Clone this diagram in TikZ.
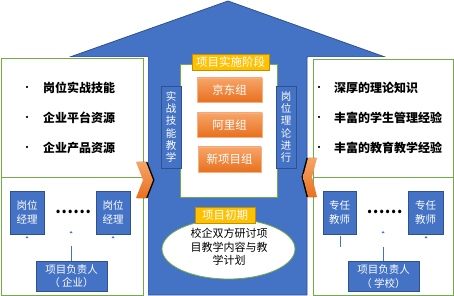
\documentclass[tikz,border=0pt]{standalone}
\usepackage{fontspec}
\setmainfont{Noto Sans CJK SC}
\definecolor{hblue}{HTML}{4472C4}
\definecolor{bdark}{HTML}{2F528F}
\definecolor{pgreen}{HTML}{70AD47}
\definecolor{gold}{HTML}{FFC000}
\definecolor{golddark}{HTML}{BF9000}
\definecolor{otop}{HTML}{F7A468}
\definecolor{obot}{HTML}{E8701E}
\definecolor{oborder}{HTML}{F4B183}
\begin{document}
\begin{tikzpicture}[x=1pt,y=-1pt,
  panel/.style={draw=pgreen,line width=0.8pt},
  bluebox/.style={draw=bdark,fill=hblue,line width=0.7pt,inner sep=0pt,text=white,align=center},
  goldbox/.style={draw=golddark,fill=gold,line width=0.7pt,inner sep=0pt,text=white,font=\fontsize{11.5}{13}\selectfont},
  grpbox/.style={draw=oborder,top color=otop,bottom color=obot,inner sep=0pt,text=white,minimum width=65pt,minimum height=24pt,font=\fontsize{11.5}{13}\selectfont},
  bul/.style={font=\bfseries\fontsize{8}{10}\selectfont,inner sep=0pt},
  bultext/.style={font=\bfseries\fontsize{12}{14}\selectfont,anchor=west,inner sep=0pt},
  vtext/.style={bluebox,minimum width=20pt,minimum height=82pt,font=\fontsize{10.5}{12.3}\selectfont},
  staff/.style={bluebox,minimum height=43pt,font=\fontsize{10.5}{13.5}\selectfont},
  leader/.style={bluebox,minimum width=71pt,minimum height=30pt,font=\fontsize{10.5}{13.5}\selectfont},
  dots/.style={font=\bfseries\fontsize{16}{16}\selectfont,inner sep=0pt},
  conn/.style={draw=hblue,line width=0.8pt},
  tick/.style={fill=hblue},
  chev/.style={top color=otop,bottom color=obot,draw=none}
]
\useasboundingbox (0,0) rectangle (454,296);
\fill[white] (0,0) rectangle (454,296);
% house
\draw[fill=hblue,draw=bdark,line width=0.8pt] (70,57) -- (228,1) -- (385,57) -- (307,57) -- (307,295) -- (148,295) -- (148,57) -- cycle;
% side panels
\fill[white] (0,57) rectangle (147.5,296);
\fill[white] (307.5,57) rectangle (454,296);
\draw[panel] (1,58) rectangle (143,177);
\draw[panel] (1,177) rectangle (143,295);
\draw[panel] (313,59) rectangle (453,177);
\draw[panel] (313,177) rectangle (453,295);
% chevrons
\fill[black] (137.5,162) -- (147.5,162) -- (154.5,180) -- (147.5,198) -- (137.5,198) -- (144.5,180) -- cycle;
\path[chev] (136,162) -- (146,162) -- (153,180) -- (146,198) -- (136,198) -- (143,180) -- cycle;
\fill[black] (315.5,158) -- (306.5,158) -- (301.5,177) -- (306.5,197) -- (315.5,197) -- (310.5,177) -- cycle;
\path[chev] (317,158) -- (308,158) -- (303,177) -- (308,197) -- (317,197) -- (312,177) -- cycle;
% central box
\node[draw=pgreen,fill=white,line width=0.8pt,minimum width=97pt,minimum height=133pt,inner sep=0pt] (center) at (228.5,130.5) {};
\node[goldbox,minimum width=77pt,minimum height=16pt] (stage) at (230.5,62) {项目实施阶段};
\node[grpbox] (jd) at (229.5,90) {京东组};
\node[grpbox] (al) at (229.5,125) {阿里组};
\node[grpbox,minimum width=63pt,minimum height=25pt] (xm) at (229.5,159.5) {新项目组};
\node[vtext] (vl) at (171,127) {实\\战\\技\\能\\教\\学};
\node[vtext] (vr) at (286,127) {岗\\位\\理\\论\\进\\行};
% early stage ellipse
\draw[draw=pgreen,fill=white,line width=0.8pt] (228.5,249) ellipse [x radius=66.5pt,y radius=30pt];
\node[align=center,inner sep=0pt,font=\fontsize{11}{13.5}\selectfont] (plan) at (229,247) {校企双方研讨项\\目教学内容与教\\学计划};
\node[goldbox,minimum width=60pt,minimum height=16pt] (early) at (225,215) {项目初期};
% left bullets
\node[bul] (b1) at (27,88) {•};
\node[bultext] (t1) at (43,88) {岗位实战技能};
\node[bul] (b2) at (27,118) {•};
\node[bultext] (t2) at (43,118) {企业平台资源};
\node[bul] (b3) at (27,148) {•};
\node[bultext] (t3) at (43,148) {企业产品资源};
% right bullets
\node[bul] (b4) at (319,88) {•};
\node[bultext] (t4) at (334,88) {深厚的理论知识};
\node[bul] (b5) at (319,118) {•};
\node[bultext] (t5) at (334,118) {丰富的学生管理经验};
\node[bul] (b6) at (319,148) {•};
\node[bultext] (t6) at (334,148) {丰富的教育教学经验};
% left staff
\node[staff,minimum width=34pt] (m1) at (27,212.5) {岗位\\经理};
\node[staff,minimum width=34pt] (m2) at (113,212.5) {岗位\\经理};
\node[dots] (d1) at (73,212) {……};
\node[leader] (pl) at (71.5,276) {项目负责人\\（ 企业）};
\coordinate (pltop) at (71.5,246);
\draw[conn] (pl.north) -- (pltop);
\fill[tick] (25.5,238) -- (28.5,238) -- (27,236) -- cycle;
\fill[tick] (69.5,233) -- (72.5,233) -- (71,231) -- cycle;
\fill[tick] (111.5,238) -- (114.5,238) -- (113,236) -- cycle;
% right staff
\node[staff,minimum width=33pt] (s1) at (339.5,212.5) {专任\\教师};
\node[staff,minimum width=35pt] (s2) at (425.5,212.5) {专任\\教师};
\node[dots] (d2) at (384.5,212) {……};
\node[leader] (pr) at (383.5,276.5) {项目负责人\\（ 学校）};
\coordinate (prtop) at (383.5,247);
\coordinate (s1low) at (340,247);
\draw[conn] (pr.north) -- (prtop);
\draw[conn] (s1.south) ++(0.5,1.5) -- (s1low);
\fill[tick] (381.5,233) -- (384.5,233) -- (383,231) -- cycle;
\fill[tick] (424.5,238) -- (427.5,238) -- (426,236) -- cycle;
\end{tikzpicture}
\end{document}
